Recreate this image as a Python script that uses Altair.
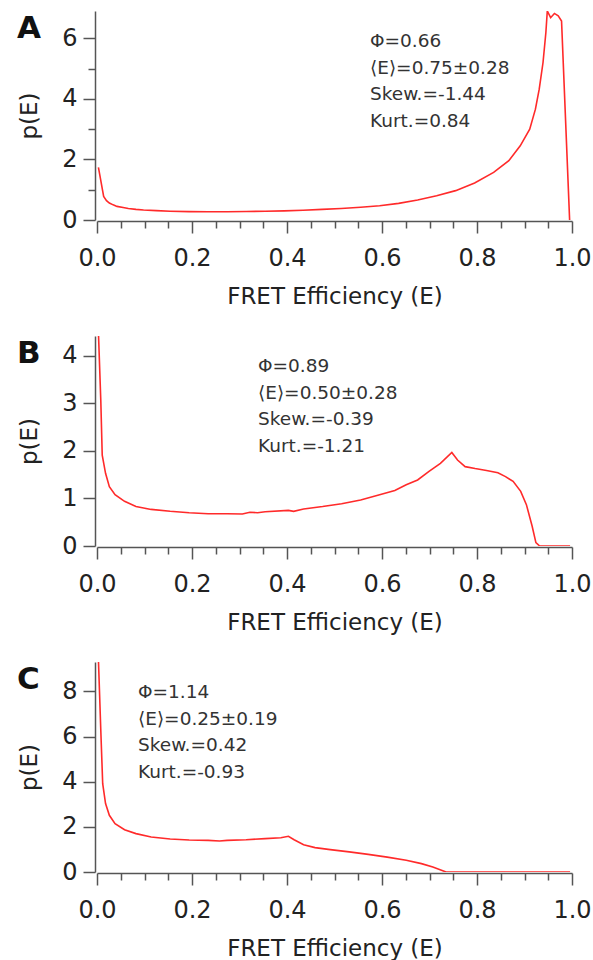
import altair as alt
import pandas as pd

# ---------------- data ----------------
E_A = [0.003, 0.014, 0.020, 0.026, 0.034, 0.042, 0.055, 0.066, 0.082, 0.098, 0.125, 0.154,
       0.194, 0.234, 0.274, 0.314, 0.354, 0.394, 0.434, 0.474, 0.514, 0.555, 0.595, 0.635,
       0.675, 0.715, 0.755, 0.795, 0.835, 0.867, 0.891, 0.911, 0.923, 0.931, 0.939, 0.945,
       0.948, 0.955, 0.963, 0.971, 0.978, 0.995]
P_A = [1.74, 0.78, 0.64, 0.56, 0.50, 0.45, 0.41, 0.38, 0.35, 0.33, 0.31, 0.29,
       0.275, 0.27, 0.27, 0.28, 0.29, 0.30, 0.32, 0.35, 0.38, 0.42, 0.47, 0.55,
       0.66, 0.80, 0.97, 1.22, 1.57, 1.96, 2.45, 3.00, 3.66, 4.32, 5.20, 6.19,
       6.90, 6.68, 6.82, 6.74, 6.57, 0.0]

E_B = [0.003, 0.008, 0.011, 0.018, 0.026, 0.038, 0.058, 0.082, 0.114, 0.154, 0.194, 0.234,
       0.274, 0.306, 0.322, 0.338, 0.354, 0.403, 0.414, 0.435, 0.475, 0.515, 0.555, 0.595,
       0.627, 0.651, 0.675, 0.699, 0.723, 0.747, 0.759, 0.775, 0.796, 0.820, 0.844, 0.860,
       0.876, 0.892, 0.904, 0.916, 0.924, 0.932, 0.996]
P_B = [4.5, 3.06, 1.91, 1.53, 1.25, 1.08, 0.94, 0.83, 0.77, 0.73, 0.70, 0.68,
       0.68, 0.675, 0.71, 0.70, 0.72, 0.75, 0.73, 0.78, 0.83, 0.89, 0.97, 1.08,
       1.17, 1.29, 1.39, 1.57, 1.74, 1.97, 1.81, 1.67, 1.63, 1.59, 1.54, 1.46,
       1.36, 1.15, 0.87, 0.42, 0.07, 0.0, 0.0]

E_C = [0.003, 0.008, 0.012, 0.018, 0.026, 0.038, 0.058, 0.082, 0.114, 0.154, 0.194, 0.234,
       0.258, 0.274, 0.314, 0.354, 0.387, 0.403, 0.415, 0.435, 0.459, 0.491, 0.531, 0.571,
       0.611, 0.651, 0.683, 0.707, 0.735, 0.996]
P_C = [9.4, 6.27, 3.91, 3.03, 2.51, 2.14, 1.87, 1.70, 1.55, 1.46, 1.42, 1.40,
       1.37, 1.40, 1.43, 1.48, 1.52, 1.58, 1.43, 1.21, 1.08, 0.99, 0.89, 0.78,
       0.66, 0.52, 0.37, 0.22, 0.0, 0.0]

STATS_A = ["Φ=0.66", "⟨E⟩=0.75±0.28", "Skew.=-1.44", "Kurt.=0.84"]
STATS_B = ["Φ=0.89", "⟨E⟩=0.50±0.28", "Skew.=-0.39", "Kurt.=-1.21"]
STATS_C = ["Φ=1.14", "⟨E⟩=0.25±0.19", "Skew.=0.42", "Kurt.=-0.93"]

X_TICKS = [round(i * 0.05, 2) for i in range(21)]
Y_TICKS_A = [0, 1, 2, 3, 4, 5, 6]
Y_TICKS_B = [0, 1, 2, 3, 4]
Y_TICKS_C = [0, 2, 4, 6, 8]

FONT = "DejaVu Sans"
RED = "#ff2a2a"
INK = "#222222"
AXC = "#555555"


def panel(E, P, ymax, yticks, ymajor_test, letter, stats, stats_x, height):
    df = pd.DataFrame({"E": E, "p": P})
    x_axis = alt.Axis(
        values=X_TICKS,
        title="FRET Efficiency (E)",
        grid=False,
        offset=1,
        labelExpr="round(datum.value*20) % 4 == 0 ? format(datum.value, '.1f') : ''",
        tickSize={"condition": {"test": "round(datum.value*20) % 4 == 0", "value": 12}, "value": 7},
        labelOverlap=False,
        labelFlush=False,
        labelPadding=13,
        titlePadding=15,
    )
    y_axis = alt.Axis(
        values=yticks,
        title="p(E)",
        grid=False,
        offset=2,
        labelExpr=f"{ymajor_test} ? datum.label : ''",
        tickSize={"condition": {"test": ymajor_test, "value": 12}, "value": 7},
        labelOverlap=False,
        labelFlush=False,
        labelPadding=6,
        titlePadding=20,
    )
    line = alt.Chart(df).mark_line(color=RED, strokeWidth=1.6, clip=True).encode(
        x=alt.X("E:Q", scale=alt.Scale(domain=[0, 1], nice=False), axis=x_axis),
        y=alt.Y("p:Q", scale=alt.Scale(domain=[0, ymax], nice=False), axis=y_axis),
    )
    lab = alt.Chart(pd.DataFrame({"t": [letter]})).mark_text(
        font=FONT, fontWeight="bold", fontSize=31, align="left", baseline="alphabetic", color="#111111"
    ).encode(text="t:N", x=alt.value(-80), y=alt.value(27))
    st = alt.Chart(pd.DataFrame({"s": ["\n".join(stats)]})).mark_text(
        font=FONT, fontSize=18.5, align="left", baseline="top", lineBreak="\n",
        lineHeight=26.7, color="#333333"
    ).encode(text="s:N", x=alt.value(stats_x), y=alt.value(21))
    return alt.layer(line, lab, st).properties(width=475, height=height)


a = panel(E_A, P_A, 6.9, Y_TICKS_A, "datum.value % 2 == 0", "A", STATS_A, 273, 209)
b = panel(E_B, P_B, 4.42, Y_TICKS_B, "true", "B", STATS_B, 161, 210)
c = panel(E_C, P_C, 9.3, Y_TICKS_C, "true", "C", STATS_C, 41, 210)

chart = alt.vconcat(a, b, c, spacing=116, bounds="flush").properties(
    padding={"left": 17, "top": 11, "right": 0, "bottom": 0}
).configure_view(stroke=None).configure_axis(
    labelFont=FONT, labelFontSize=24, labelColor=INK,
    titleFont=FONT, titleFontSize=23, titleFontWeight="normal", titleColor=INK,
    domainColor=AXC, tickColor=AXC, domainWidth=1.5, tickWidth=1.5,
)

chart.save("out.html", embed_options={"renderer": "svg", "actions": False})
